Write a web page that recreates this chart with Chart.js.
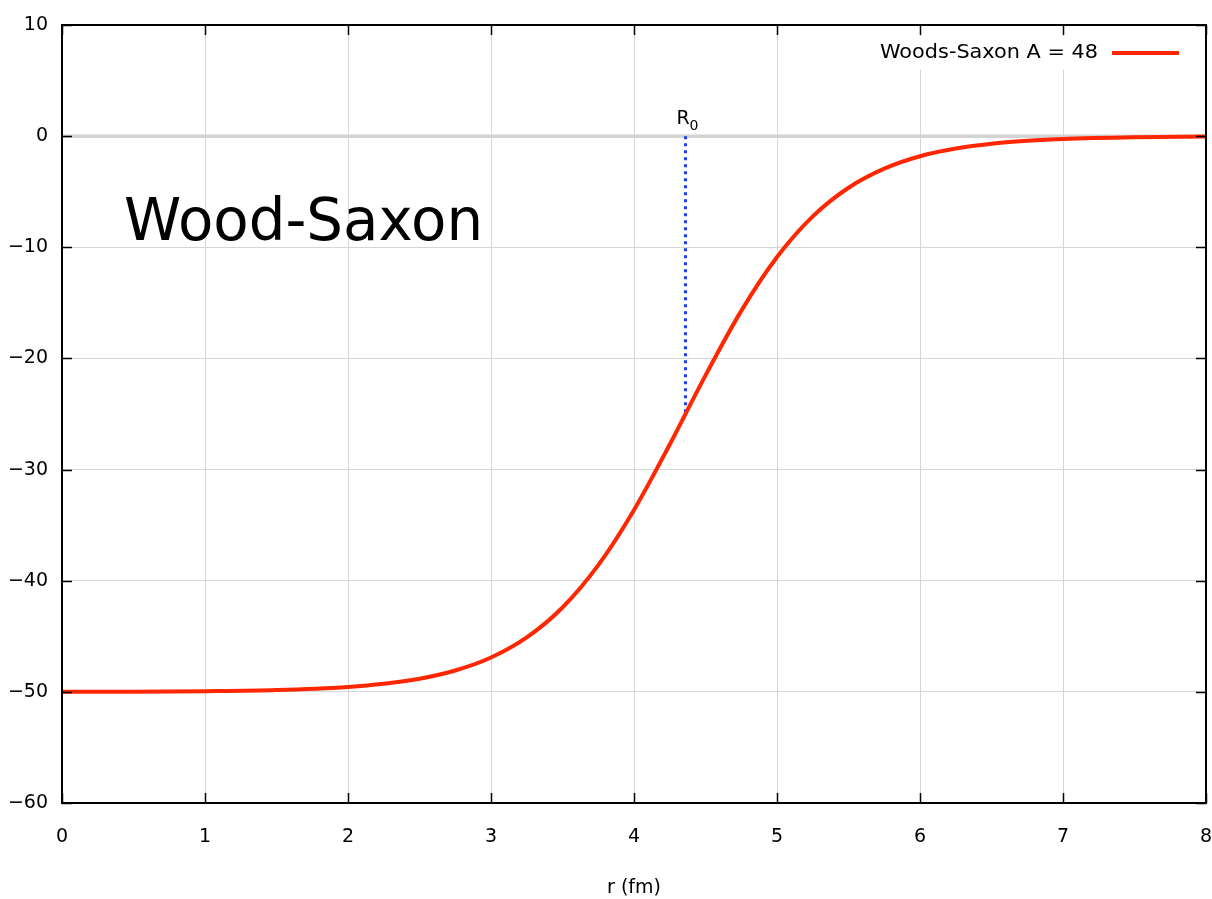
<!DOCTYPE html>
<html>
<head>
<meta charset="utf-8">
<title>Wood-Saxon</title>
<script src="https://cdn.jsdelivr.net/npm/chart.js@4/dist/chart.umd.min.js"></script>
<style>
  html, body { margin: 0; padding: 0; background: #ffffff; }
  #wrap { width: 1212px; height: 899px; position: relative; }
</style>
</head>
<body>
<div id="wrap"><canvas id="c" width="1212" height="899"></canvas></div>
<script>
// Woods-Saxon potential for A = 48 (MeV vs fm)
const rValues = [0, 0.5, 1, 1.5, 2, 2.25, 2.5, 2.75, 3, 3.25, 3.5, 3.75, 4, 4.25, 4.36, 4.5, 4.75, 5, 5.25, 5.5, 5.75, 6, 6.25, 6.5, 6.75, 7, 7.5, 8];
const vValues = [-49.99, -49.98, -49.94, -49.84, -49.56, -49.28, -48.82, -48.08, -46.91, -45.10, -42.41, -38.60, -33.63, -27.74, -25.00, -21.52, -15.72, -10.88, -7.22, -4.64, -2.92, -1.81, -1.12, -0.68, -0.42, -0.25, -0.09, -0.03];

// Nuclear radius marker
const radiusR = [4.36, 4.36];
const radiusV = [0, -25.0];

const xTicks = [0, 1, 2, 3, 4, 5, 6, 7, 8];
const yTicks = [10, 0, -10, -20, -30, -40, -50, -60];

const seriesLabel = 'Woods-Saxon A = 48';
const xTitle = 'r (fm)';
const bigTitle = 'Wood-Saxon';

const FONT = '"DejaVu Sans", sans-serif';
const RED = '#ff2600';
const BLUE = '#1a3cff';

// draw text squeezed/stretched to a given width
function fitText(ctx, text, x, y, width) {
  const w = ctx.measureText(text).width;
  ctx.save();
  ctx.translate(x, y);
  ctx.scale(width / w, 1);
  ctx.fillText(text, 0, 0);
  ctx.restore();
}

// Frame, inward ticks, zero line, legend and annotations in gnuplot style
const decorations = {
  id: 'decorations',
  beforeDatasetsDraw(chart) {
    const { ctx, chartArea: a, scales: { y } } = chart;
    ctx.save();
    ctx.strokeStyle = '#d3d3d3';
    ctx.lineWidth = 3.5;
    ctx.beginPath();
    ctx.moveTo(a.left, y.getPixelForValue(0));
    ctx.lineTo(a.right, y.getPixelForValue(0));
    ctx.stroke();
    ctx.restore();
  },
  afterDatasetsDraw(chart) {
    const { ctx, chartArea: a, scales: { x, y } } = chart;
    ctx.save();
    // legend box (opaque)
    const ly = 53;
    ctx.fillStyle = '#ffffff';
    ctx.fillRect(868, 36, 326, 34);
    ctx.font = '19px ' + FONT;
    ctx.fillStyle = '#000000';
    ctx.textAlign = 'left';
    ctx.textBaseline = 'middle';
    fitText(ctx, seriesLabel, 880, ly, 218);
    ctx.strokeStyle = RED;
    ctx.lineWidth = 4;
    ctx.beginPath();
    ctx.moveTo(1112, ly);
    ctx.lineTo(1179, ly);
    ctx.stroke();

    // frame
    ctx.strokeStyle = '#000000';
    ctx.lineWidth = 2;
    ctx.strokeRect(a.left, a.top, a.right - a.left, a.bottom - a.top);
    // inward ticks
    ctx.lineWidth = 1.5;
    ctx.beginPath();
    xTicks.forEach(v => {
      const px = Math.round(x.getPixelForValue(v)) + 0.5;
      ctx.moveTo(px, a.bottom); ctx.lineTo(px, a.bottom - 10);
      ctx.moveTo(px, a.top); ctx.lineTo(px, a.top + 10);
    });
    yTicks.forEach(v => {
      const py = Math.round(y.getPixelForValue(v)) + 0.5;
      ctx.moveTo(a.left, py); ctx.lineTo(a.left + 10, py);
      ctx.moveTo(a.right, py); ctx.lineTo(a.right - 10, py);
    });
    ctx.stroke();

    // R0 label above the radius marker
    const rx = x.getPixelForValue(radiusR[0]);
    const ry = y.getPixelForValue(radiusV[0]);
    ctx.textAlign = 'left';
    ctx.textBaseline = 'alphabetic';
    ctx.font = '19px ' + FONT;
    ctx.fillText('R', rx - 9, ry - 12);
    ctx.font = '14px ' + FONT;
    ctx.fillText('0', rx + 4, ry - 6);

    // large title inside the plot
    ctx.font = '58px ' + FONT;
    fitText(ctx, bigTitle, x.getPixelForValue(0.434), y.getPixelForValue(-9.36), 359);
    ctx.restore();
  }
};

const tickFmt = v => (v < 0 ? '\u2212' + Math.abs(v) : String(v));

new Chart(document.getElementById('c'), {
  type: 'line',
  data: {
    datasets: [
      {
        label: seriesLabel,
        data: rValues.map((r, i) => ({ x: r, y: vValues[i] })),
        borderColor: RED,
        borderWidth: 4,
        pointRadius: 0,
        cubicInterpolationMode: 'monotone',
        fill: false
      },
      {
        label: 'R0',
        data: radiusR.map((r, i) => ({ x: r, y: radiusV[i] })),
        borderColor: BLUE,
        borderWidth: 3,
        borderDash: [3, 4],
        pointRadius: 0,
        fill: false
      }
    ]
  },
  options: {
    responsive: false,
    animation: false,
    devicePixelRatio: 1,
    layout: { padding: { top: 25, right: 6, left: 0, bottom: 0 } },
    plugins: {
      legend: { display: false },
      tooltip: { enabled: false }
    },
    scales: {
      x: {
        type: 'linear',
        min: 0, max: 8,
        afterBuildTicks(s) { s.ticks = xTicks.map(v => ({ value: v })); },
        afterFit(s) { s.height = 96; s.paddingLeft = 0; s.paddingRight = 0; },
        grid: { color: '#d6d6d6', lineWidth: 1, drawTicks: false },
        border: { display: false },
        ticks: { color: '#000', font: { family: FONT, size: 19 }, padding: 23, maxRotation: 0, callback: tickFmt },
        title: { display: true, text: xTitle, color: '#000', font: { family: FONT, size: 19 }, padding: { top: 18, bottom: 0 } }
      },
      y: {
        type: 'linear',
        min: -60, max: 10,
        afterBuildTicks(s) { s.ticks = yTicks.map(v => ({ value: v })); },
        afterFit(s) { s.width = 62; s.paddingTop = 0; s.paddingBottom = 0; },
        grid: { color: '#d6d6d6', lineWidth: 1, drawTicks: false },
        border: { display: false },
        ticks: { color: '#000', font: { family: FONT, size: 19 }, padding: 14, callback: tickFmt }
      }
    }
  },
  plugins: [decorations]
});
</script>
</body>
</html>
